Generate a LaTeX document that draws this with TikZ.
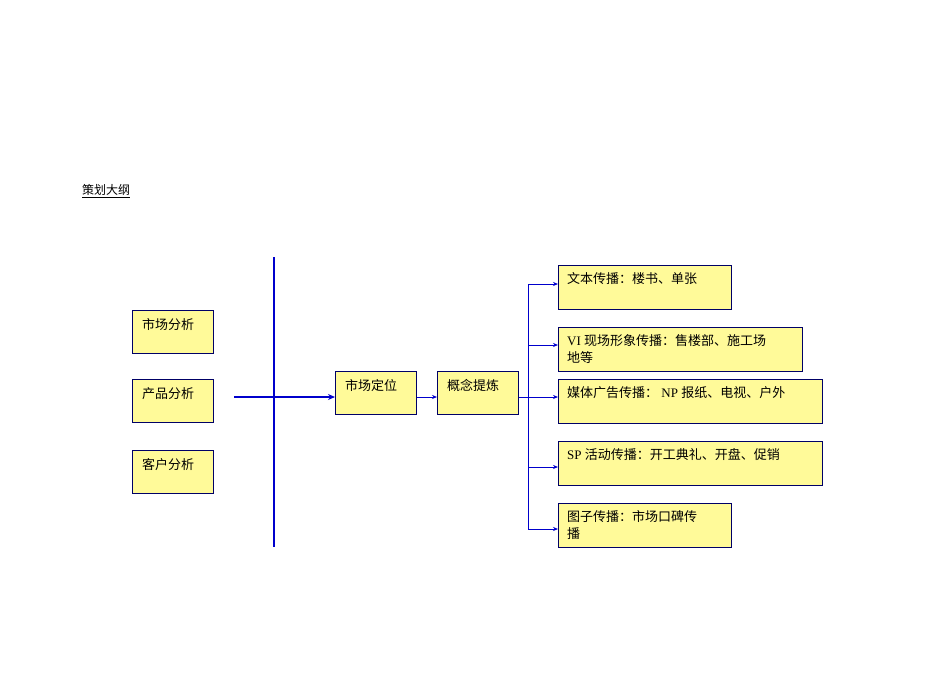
\documentclass[tikz,border=0pt]{standalone}
\usepackage{fontspec}
\setmainfont{Liberation Serif}
\newfontfamily\cjk{Noto Sans CJK SC}
\usetikzlibrary{arrows.meta,calc}
\begin{document}
\begin{tikzpicture}[x=1pt,y=-1pt,
  bx/.style={draw=blue!40!black, fill=yellow!40, line width=0.7pt, anchor=north west, inner sep=0pt},
  tx/.style={anchor=north west, inner sep=0pt, font=\fontsize{13}{17}\selectfont, align=left},
  ar/.style={draw=blue!80!black, line width=0.7pt, -{Stealth[length=5pt,width=4pt]}},
  thick blue/.style={draw=blue!80!black, line width=2.5pt}]
\useasboundingbox (0,0) rectangle (950,672);
\node[anchor=west, inner sep=0pt, font=\fontsize{12}{14}\selectfont\cjk\itshape] (title) at (82,191) {\underline{策划大纲}};
% left boxes
\node[bx, minimum width=81pt, minimum height=43pt] (a1) at (132,310) {};
\node[tx] at ($(a1.north west)+(10,8)$) {\cjk 市场分析};
\node[bx, minimum width=81pt, minimum height=43pt] (a2) at (132,379) {};
\node[tx] at ($(a2.north west)+(10,8)$) {\cjk 产品分析};
\node[bx, minimum width=81pt, minimum height=43pt] (a3) at (132,450) {};
\node[tx] at ($(a3.north west)+(10,8)$) {\cjk 客户分析};
% thick lines
\coordinate (vt) at (274,257); \coordinate (vb) at (274,547);
\draw[thick blue] (vt) -- (vb);
\node[bx, minimum width=81pt, minimum height=43pt] (m) at (335,371) {};
\node[tx] at ($(m.north west)+(10,8)$) {\cjk 市场定位};
\node[bx, minimum width=81pt, minimum height=43pt] (c) at (437,371) {};
\node[tx] at ($(c.north west)+(10,8)$) {\cjk 概念提炼};
\coordinate (hs) at (234,397);
\draw[thick blue, -{Stealth[length=7pt,width=6pt]}] (hs) -- (m.west |- hs);
\draw[ar] (m.east |- hs) -- (c.west |- hs);
% right boxes
\node[bx, minimum width=173pt, minimum height=44pt] (r1) at (558,265) {};
\node[tx] at ($(r1.north west)+(9,7)$) {\cjk 文本传播：楼书、单张};
\node[bx, minimum width=244pt, minimum height=44pt] (r2) at (558,327) {};
\node[tx] at ($(r2.north west)+(9,7)$) {VI {\cjk 现场形象传播：售楼部、施工场}\\{\cjk 地等}};
\node[bx, minimum width=264pt, minimum height=44pt] (r3) at (558,379) {};
\node[tx] at ($(r3.north west)+(9,7)$) {{\cjk 媒体广告传播：} NP {\cjk 报纸、电视、户外}};
\node[bx, minimum width=264pt, minimum height=44pt] (r4) at (558,441) {};
\node[tx] at ($(r4.north west)+(9,7)$) {SP {\cjk 活动传播：开工典礼、开盘、促销}};
\node[bx, minimum width=173pt, minimum height=44pt] (r5) at (558,503) {};
\node[tx] at ($(r5.north west)+(9,7)$) {\cjk 图子传播：市场口碑传\\\cjk 播};
\coordinate (bt) at (528,284); \coordinate (bb) at (528,529);
\draw[draw=blue!80!black, line width=0.7pt] (bt) -- (bb);
\draw[ar] (c.east |- hs) -- (r3.west |- hs);
\draw[ar] (bt) -- (r1.west |- bt);
\draw[ar] (528,345) -- (r2.west |- 0,345);
\draw[ar] (528,467) -- (r4.west |- 0,467);
\draw[ar] (bb) -- (r5.west |- bb);
\end{tikzpicture}
\end{document}
